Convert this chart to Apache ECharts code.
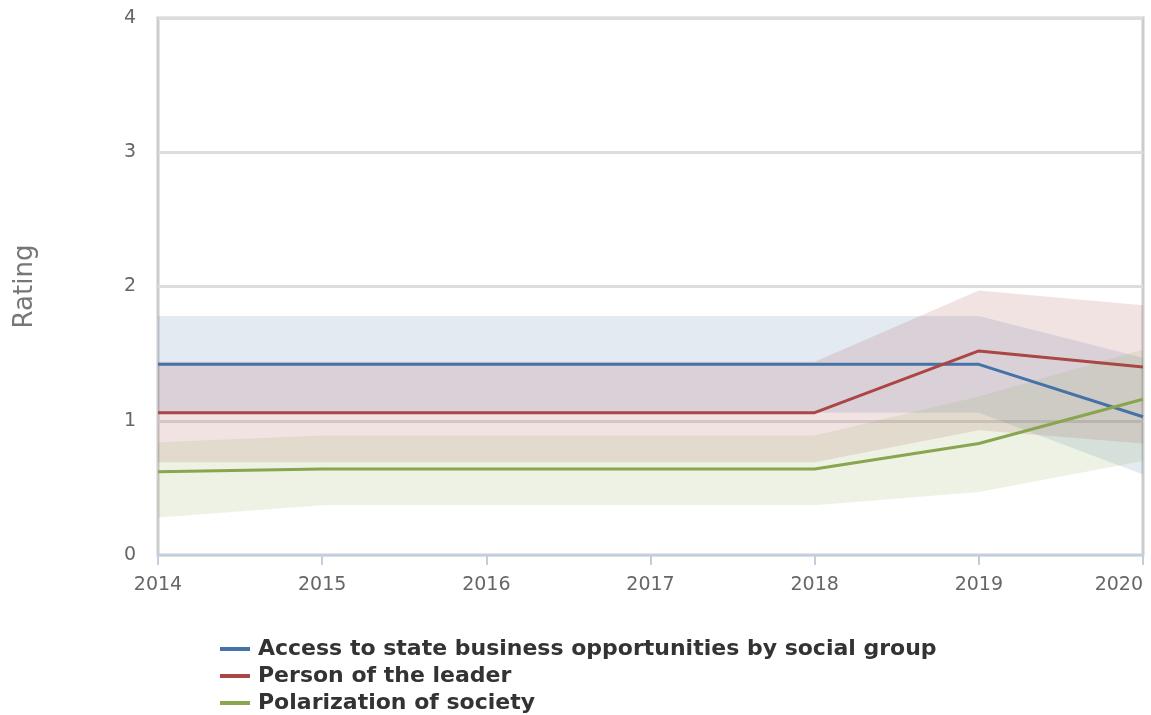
<!DOCTYPE html>
<html><head><meta charset="utf-8">
<script src="https://cdn.jsdelivr.net/npm/echarts@6/dist/echarts.min.js"></script>
<style>html,body{margin:0;padding:0;background:#fff}#c{width:1151px;height:715px}</style>
</head><body><div id="c"></div>
<script>
const years = ['2014','2015','2016','2017','2018','2019','2020'];
const yTicks = [0,1,2,3,4];
const names = ['Access to state business opportunities by social group','Person of the leader','Polarization of society'];
const colors = ['#4572A7','#AA4643','#89A54E'];
const accessMean = [1.42,1.42,1.42,1.42,1.42,1.42,1.03];
const accessLow  = [1.06,1.06,1.06,1.06,1.06,1.06,0.60];
const accessHigh = [1.78,1.78,1.78,1.78,1.78,1.78,1.47];
const leaderMean = [1.06,1.06,1.06,1.06,1.06,1.52,1.40];
const leaderLow  = [0.69,0.69,0.69,0.69,0.69,0.93,0.83];
const leaderHigh = [1.44,1.44,1.44,1.44,1.44,1.97,1.86];
const polarMean  = [0.62,0.64,0.64,0.64,0.64,0.83,1.16];
const polarLow   = [0.28,0.37,0.37,0.37,0.37,0.47,0.70];
const polarHigh  = [0.84,0.89,0.89,0.89,0.89,1.18,1.53];

const means = [accessMean, leaderMean, polarMean];
const lows = [accessLow, leaderLow, polarLow];
const highs = [accessHigh, leaderHigh, polarHigh];

const series = [];
for (let i = 0; i < 3; i++) {
  series.push({
    name: 'band' + i, type: 'line', stack: 'b' + i, data: lows[i],
    symbol: 'none', lineStyle: {opacity: 0}, silent: true, z: 1
  });
  series.push({
    name: 'bandw' + i, type: 'line', stack: 'b' + i,
    data: highs[i].map((h, k) => +(h - lows[i][k]).toFixed(3)),
    symbol: 'none', lineStyle: {opacity: 0}, silent: true, z: 1,
    areaStyle: {color: colors[i], opacity: 0.15}
  });
}
for (let i = 0; i < 3; i++) {
  series.push({
    name: names[i], type: 'line', data: means[i], symbol: 'none', z: 5,
    lineStyle: {color: colors[i], width: 3}, itemStyle: {color: colors[i]}
  });
}

const chart = echarts.init(document.getElementById('c'), null, {renderer: 'canvas'});
chart.setOption({
  animation: false,
  color: colors,
  grid: {left: 158, right: 8, top: 18, bottom: 160, show: true, borderColor: '#cccccc', borderWidth: 3,
    backgroundColor: 'transparent', outerBoundsMode: 'none', containLabel: false},
  legend: {
    data: names, orient: 'vertical', left: 215, top: 633, height: 100, width: 900,
    icon: 'rect', itemWidth: 30, itemHeight: 4, itemGap: 5,
    textStyle: {fontFamily: 'DejaVu Sans', fontWeight: 'bold', fontSize: 22, color: '#333', padding: [0,0,0,3]}
  },
  xAxis: {
    type: 'category', data: years, boundaryGap: false,
    axisLine: {lineStyle: {color: '#C0D0E0', width: 2}},
    axisTick: {show: true, length: 10, lineStyle: {color: '#C0D0E0', width: 2}},
    axisLabel: {color: '#666', fontSize: 19, fontFamily: 'DejaVu Sans', margin: 21, alignMaxLabel: 'right'},
    splitLine: {show: false}
  },
  yAxis: {
    type: 'value', min: 0, max: 4, interval: 1,
    name: 'Rating', nameLocation: 'middle', nameGap: 120, nameRotate: 90,
    nameTextStyle: {color: '#777', fontSize: 26, fontFamily: 'DejaVu Sans'},
    axisLine: {show: false}, axisTick: {show: false},
    axisLabel: {color: '#666', fontSize: 19, fontFamily: 'DejaVu Sans', margin: 22, padding: [4,0,0,0],
      formatter: v => yTicks.includes(v) ? String(v) : ''},
    splitLine: {lineStyle: {color: '#dddddd', width: 3}}
  },
  series: series
});
</script></body></html>
